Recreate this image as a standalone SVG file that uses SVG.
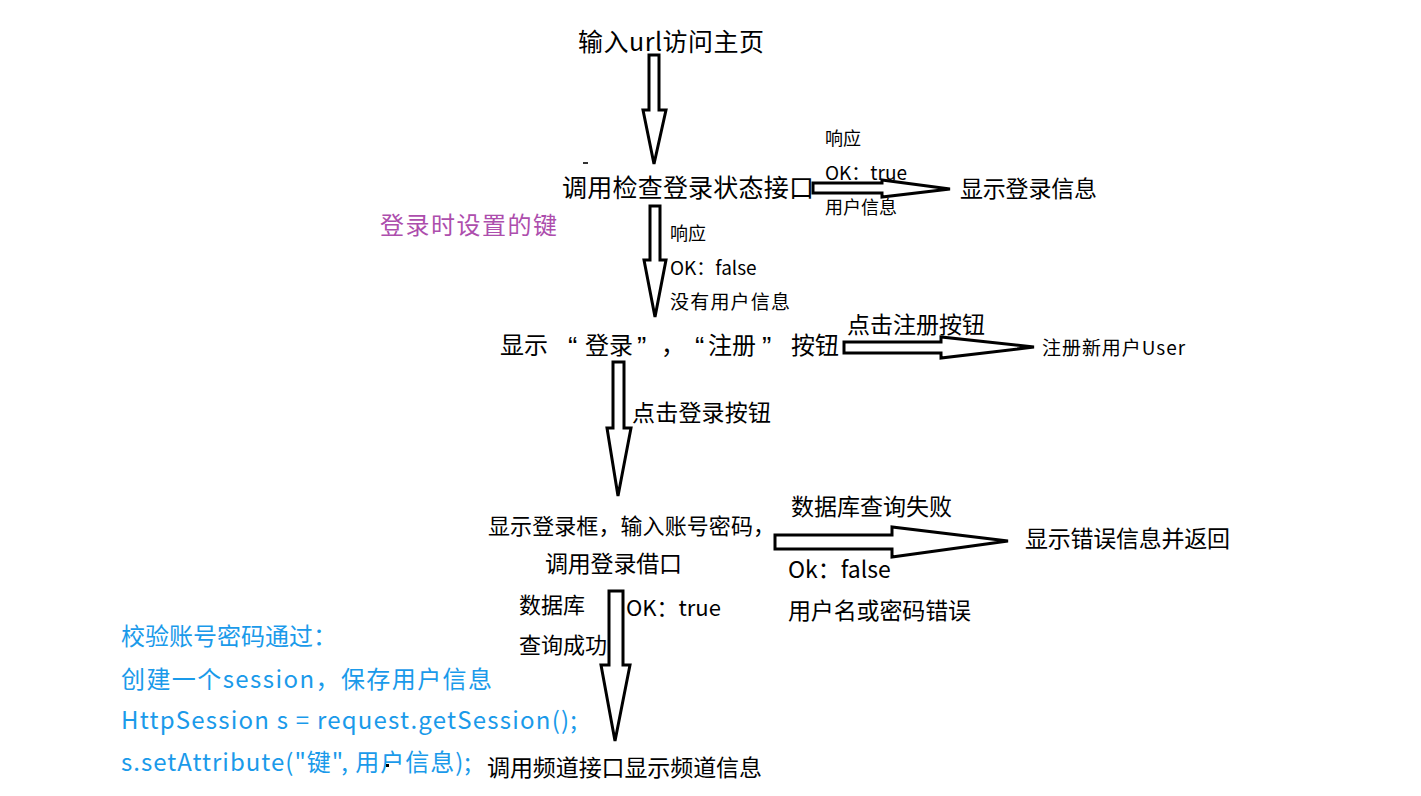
<svg xmlns="http://www.w3.org/2000/svg" width="1421" height="796" viewBox="0 0 1421 796">
<style>
text{font-family:"Noto Sans CJK SC","Microsoft YaHei",sans-serif;fill:#000}
.q{font-family:"Liberation Sans",sans-serif;font-size:28px}
.blue{fill:#1a9aea;font-size:24px}
.purple{fill:#ad4ead}
.arrow{fill:#fff;stroke:#000;stroke-width:3;stroke-linejoin:miter}
</style>
<rect width="1421" height="796" fill="#fff"/>
<g id="connectors">
<polygon class="arrow" points="649,55 659,55 659,110 666,110 654,164 643,110 649,110"/>
<polygon class="arrow" points="813,183 882,183 882,180 950,189 882,197 882,193 813,193"/>
<polygon class="arrow" points="650,206 660,206 660,260 666,260 655,317 644,260 650,260"/>
<polygon class="arrow" points="844,342 941,342 941,337 1034,347 941,358 941,353 844,353"/>
<polygon class="arrow" points="613,362 624,362 624,428 631,428 618,496 607,428 613,428"/>
<polygon class="arrow" points="775,535 892,535 892,527 1008,541 892,557 892,549 775,549"/>
<polygon class="arrow" points="609,591 623,591 623,665 630,665 615,741 601,665 609,665"/>
</g>
<g id="n-home"><text x="578" y="51" font-size="25" textLength="186">输入url访问主页</text></g>
<g id="n-check"><text x="562" y="197" font-size="25" textLength="252">调用检查登录状态接口</text></g>
<g id="l-true"><text x="825" y="145" font-size="18">响应</text><text x="825" y="180" font-size="19">OK：true</text><text x="825" y="214" font-size="18">用户信息</text></g>
<g id="n-showinfo"><text x="960" y="197" font-size="23" textLength="137">显示登录信息</text></g>
<g id="n-key"><text class="purple" x="380" y="234" font-size="24" textLength="177">登录时设置的键</text></g>
<g id="l-false"><text x="670" y="240" font-size="18">响应</text><text x="670" y="275" font-size="19">OK：false</text><text x="670" y="309" font-size="19" textLength="120">没有用户信息</text></g>
<g id="n-buttons"><text y="354" font-size="24"><tspan class="q" x="568" dy="2">“</tspan><tspan x="500" dy="-2">显示</tspan><tspan x="585">登录</tspan><tspan class="q" x="637" dy="2">”</tspan><tspan x="661" dy="-2">，</tspan><tspan class="q" x="695" dy="2">“</tspan><tspan x="708" dy="-2">注册</tspan><tspan class="q" x="762" dy="2">”</tspan><tspan x="791" dy="-2">按钮</tspan></text></g>
<g id="l-reg"><text x="847" y="333" font-size="23" textLength="138">点击注册按钮</text></g>
<g id="n-register"><text x="1042" y="355" font-size="19" textLength="143">注册新用户User</text></g>
<g id="l-login"><text x="632" y="421" font-size="23" textLength="139">点击登录按钮</text></g>
<g id="n-loginbox"><text x="488" y="534" font-size="22" textLength="287">显示登录框，输入账号密码，</text><text x="545" y="572" font-size="23" textLength="137">调用登录借口</text></g>
<g id="l-fail"><text x="791" y="515" font-size="23" textLength="161">数据库查询失败</text><text x="788" y="578" font-size="23">Ok：false</text><text x="788" y="619" font-size="23" textLength="183">用户名或密码错误</text></g>
<g id="n-error"><text x="1025" y="547" font-size="23" textLength="205">显示错误信息并返回</text></g>
<g id="l-success"><text x="519" y="613" font-size="22">数据库</text><text x="519" y="653" font-size="22">查询成功</text><text x="626" y="616" font-size="22">OK：true</text></g>
<g id="n-session"><text class="blue" x="121" y="645">校验账号密码通过：</text><text class="blue" x="121" y="688" textLength="371">创建一个session，保存用户信息</text><text class="blue" x="121" y="729" textLength="456">HttpSession s = request.getSession();</text><text class="blue" x="121" y="771" textLength="350">s.setAttribute("键", 用户信息);</text></g>
<g id="n-channel"><text x="487" y="776" font-size="23" textLength="275">调用频道接口显示频道信息</text></g>
<rect x="583" y="162" width="5" height="2" fill="#333"/>
<rect x="386" y="764" width="3" height="3" fill="#000"/>
</svg>
